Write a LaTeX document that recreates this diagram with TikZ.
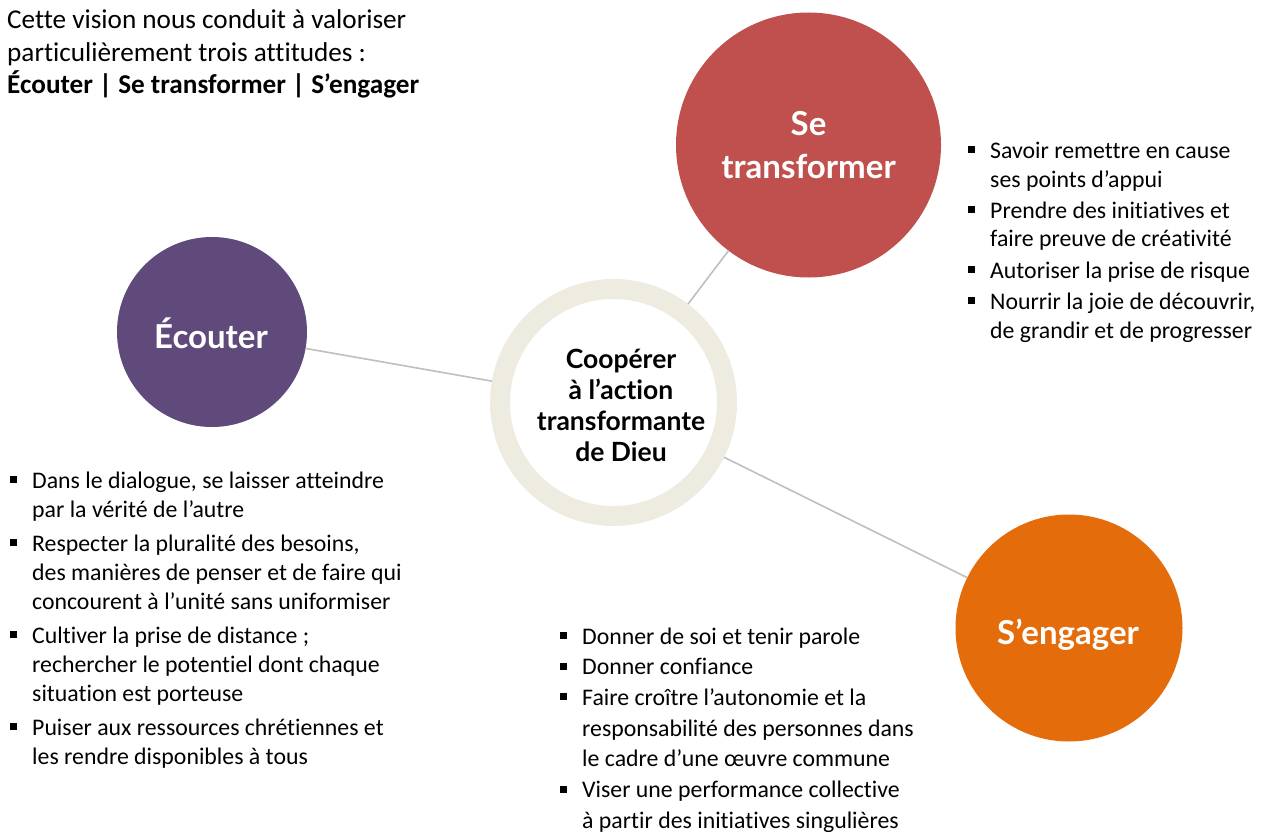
\documentclass[tikz,border=0pt]{standalone}
\usepackage{fontspec}
\setmainfont{Carlito}[Ligatures={NoCommon}]
\newfontfamily\gillfont{Lato}[Ligatures={NoCommon}]
\definecolor{ecol}{HTML}{604A7B}
\definecolor{tcol}{HTML}{C0504D}
\definecolor{scol}{HTML}{E46C0A}
\definecolor{ringcol}{HTML}{EEECE1}
\definecolor{linecol}{HTML}{BFBFBF}
\newcommand\blt{\leavevmode\llap{\rule[5pt]{7pt}{7pt}\hspace{15pt}}}
\tikzset{
  bigcircle/.style={circle, inner sep=0pt, outer sep=0pt},
  lbl/.style={inner sep=0pt, text=white, font=\gillfont\bfseries},
  txt/.style={inner sep=0pt, anchor=base west},
  conn/.style={draw=linecol, line width=1.6pt}
}
\begin{document}
\begin{tikzpicture}[x=1pt,y=-1pt]
\useasboundingbox[fill=white] (0,0) rectangle (1261,832);
% circles
\node[bigcircle, fill=ecol, minimum size=190pt] (ecouter) at (212,332) {};
\node[bigcircle, fill=tcol, minimum size=265pt] (transf) at (808.5,145) {};
\node[bigcircle, fill=scol, minimum size=227pt] (engager) at (1069,628) {};
\node[circle, draw=ringcol, fill=white, line width=20pt, minimum size=227pt, inner sep=0pt] (centre) at (613.5,402.5) {};
% connectors
\draw[conn] (ecouter) -- (centre);
\draw[conn] (transf) -- (centre);
\draw[conn] (centre) -- (engager);
% circle labels
\node[lbl, anchor=base, font=\gillfont\bfseries\fontsize{33}{43}\selectfont] (ecouterlbl) at (211,348) {Écouter};
\node[lbl, anchor=base] (transflbl) at (808.5,136) {\parbox[t]{260pt}{\centering\fontsize{33}{43}\selectfont Se\\transformer}};
\node[lbl, anchor=base, font=\gillfont\bfseries\fontsize{33}{43}\selectfont] (engagerlbl) at (1068,644) {S’engager};
\node[lbl, text=black, anchor=base] (centrelbl) at (621,368) {\parbox[t]{220pt}{\centering\fontsize{26.5}{31}\selectfont Coopérer\\à l’action\\transformante\\de Dieu}};
% heading
\node[txt] (heading) at (7,29) {\parbox[t]{460pt}{\raggedright\fontsize{27.2}{32.5}\selectfont
Cette vision nous conduit à valoriser\\
particulièrement trois attitudes :\\
\textbf{Écouter | Se transformer | S’engager}}};
% lists
\node[txt] (tlist) at (990,158) {\parbox[t]{270pt}{\raggedright\fontsize{23.8}{29}\selectfont
\blt Savoir remettre en cause\\
ses points d’appui\\[2pt]
\blt Prendre des initiatives et\\
faire preuve de créativité\\[2pt]
\blt Autoriser la prise de risque\\[2pt]
\blt Nourrir la joie de découvrir,\\
de grandir et de progresser}};
\node[txt] (elist) at (32,488) {\parbox[t]{380pt}{\raggedright\fontsize{23.8}{29}\selectfont
\blt Dans le dialogue, se laisser atteindre\\
par la vérité de l’autre\\[5pt]
\blt Respecter la pluralité des besoins,\\
des manières de penser et de faire qui\\
concourent à l’unité sans uniformiser\\[5pt]
\blt Cultiver la prise de distance ;\\
rechercher le potentiel dont chaque\\
situation est porteuse\\[5pt]
\blt Puiser aux ressources chrétiennes et\\
les rendre disponibles à tous}};
\node[txt] (slist) at (582,644) {\parbox[t]{360pt}{\raggedright\fontsize{23.8}{30.7}\selectfont
\blt Donner de soi et tenir parole\\
\blt Donner confiance\\
\blt Faire croître l’autonomie et la\\
responsabilité des personnes dans\\
le cadre d’une œuvre commune\\
\blt Viser une performance collective\\
à partir des initiatives singulières}};
\end{tikzpicture}
\end{document}
